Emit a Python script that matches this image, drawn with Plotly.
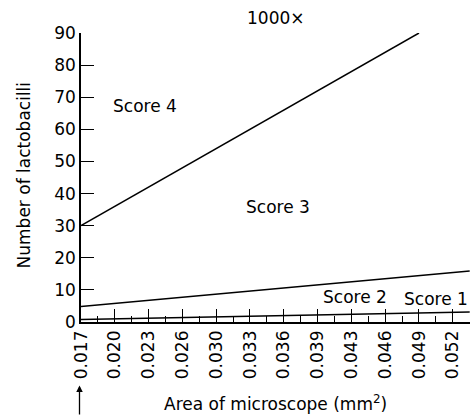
import plotly.graph_objects as go

# Tick grid (area of microscope field, mm^2) and labels as printed
tick_values = [0.0170, 0.0202, 0.0234, 0.0266, 0.0298, 0.0330,
               0.0362, 0.0394, 0.0426, 0.0458, 0.0490, 0.0522]
tick_labels = ["0.017", "0.020", "0.023", "0.026", "0.030", "0.033",
               "0.036", "0.039", "0.043", "0.046", "0.049", "0.052"]
minor_values = [0.0186, 0.0218, 0.0250, 0.0282, 0.0314, 0.0346,
                0.0378, 0.0410, 0.0442, 0.0474, 0.0506, 0.0538]
y_ticks = [0, 10, 20, 30, 40, 50, 60, 70, 80, 90]

# Boundary lines between scores
line_4_3_x = [0.017, 0.049]
line_4_3_y = [30, 90]
line_3_2_x = [0.017, 0.0538]
line_3_2_y = [4.8, 15.9]
line_2_1_x = [0.017, 0.0538]
line_2_1_y = [0.8, 3.1]

FONT = "DejaVu Sans"
FS = 17

fig = go.Figure()
for xs, ys in [(line_4_3_x, line_4_3_y), (line_3_2_x, line_3_2_y), (line_2_1_x, line_2_1_y)]:
    fig.add_trace(go.Scatter(x=xs, y=ys, mode="lines",
                             line=dict(color="black", width=1.5),
                             showlegend=False, hoverinfo="skip", cliponaxis=False))

ann = dict(showarrow=False, font=dict(family=FONT, size=FS, color="black"))
fig.add_annotation(xref="paper", yref="paper", x=0.501, y=1.0, yanchor="bottom",
                   yshift=3, text="1000×", **ann)
fig.add_annotation(x=0.02306, y=67.3, text="Score 4", **ann)
fig.add_annotation(x=0.03565, y=35.8, text="Score 3", **ann)
fig.add_annotation(x=0.04294, y=7.8, text="Score 2", **ann)
fig.add_annotation(x=0.05061, y=7.2, text="Score 1", **ann)

# x-axis title and y-axis title
fig.add_annotation(xref="paper", yref="paper", x=0.5, y=-0.28, yanchor="middle",
                   text="Area of microscope (mm<sup>2</sup>)", **ann)
fig.add_annotation(xref="paper", yref="paper", x=-0.147, y=0.51, xanchor="center",
                   textangle=-90, text="Number of lactobacilli", **ann)

# Upward arrow below the first tick
fig.add_annotation(x=0.017, y=-0.22, xref="x", yref="paper", text="",
                   showarrow=True, ax=0, ay=36, arrowhead=2, arrowsize=1,
                   arrowwidth=1.3, arrowcolor="black", xshift=-1.5)

fig.update_layout(
    width=470, height=416,
    margin=dict(l=81, r=0, t=33, b=94),
    paper_bgcolor="white", plot_bgcolor="white",
    font=dict(family=FONT, size=FS, color="black"),
    xaxis=dict(range=[0.017, 0.05383], tickmode="array", tickvals=tick_values,
               ticktext=tick_labels, tickangle=-90, ticks="inside", ticklen=13,
               tickwidth=1.3, tickcolor="black", showline=True, linecolor="black",
               linewidth=1.5, showgrid=False, zeroline=False,
               tickfont=dict(family=FONT, size=FS, color="black"),
               minor=dict(tickmode="array", tickvals=minor_values, ticks="inside",
                          ticklen=6, tickwidth=1.3, tickcolor="black", showgrid=False)),
    yaxis=dict(range=[0, 90], tickmode="array", tickvals=y_ticks, ticks="inside",
               ticklen=13, tickwidth=1.3, tickcolor="black", showline=True,
               linecolor="black", linewidth=1.5, showgrid=False, zeroline=False,
               tickfont=dict(family=FONT, size=FS, color="black")),
)

fig.write_html("out.html", config={"displayModeBar": False},
               post_script="document.body.style.margin='0';document.body.style.overflow='hidden';")
